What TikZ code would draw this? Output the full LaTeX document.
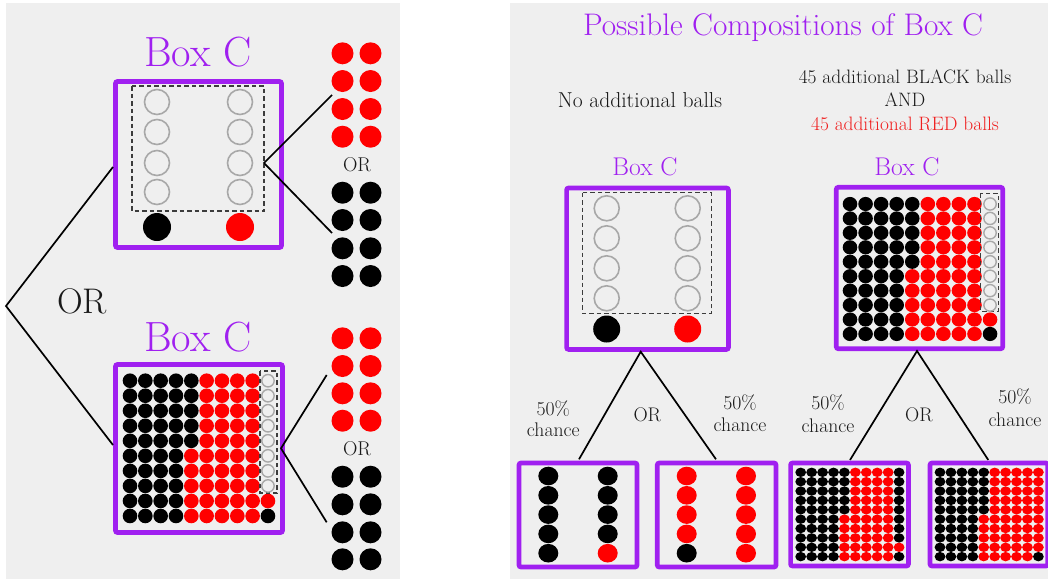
\documentclass[tikz,border=0pt]{standalone}
\usepackage{fontspec}
\definecolor{bgc}{RGB}{239,239,239}
\definecolor{boxpurple}{RGB}{160,32,240}
\definecolor{ballred}{RGB}{255,0,0}
\definecolor{ballgray}{RGB}{168,168,168}
\definecolor{dashgray}{RGB}{60,60,60}
\definecolor{txt}{RGB}{25,25,25}
\definecolor{txtred}{RGB}{240,30,30}
\newcommand\fs[1]{\fontsize{#1}{#1}\selectfont}
% 9 coloured columns plus the two coloured balls at the bottom of column 10
\newcommand\densebase[6]{%
  \foreach \r in {1,...,10}{
    \pgfmathtruncatemacro\lim{ifthenelse(\r<6,5,4)}
    \foreach \c in {1,...,9}{
      \ifnum\c>\lim\relax\def\bc{ballred}\else\def\bc{black}\fi
      \fill[fill=\bc] ({#1+(\c-1)*#3},{#2+(\r-1)*#4}) ellipse[x radius=#5pt,y radius=#6pt];
    }
  }
  \fill[ballred] ({#1+9*#3},{#2+8*#4}) ellipse[x radius=#5pt,y radius=#6pt];
  \fill[black] ({#1+9*#3},{#2+9*#4}) ellipse[x radius=#5pt,y radius=#6pt];
}
% top 8 balls of column 10
\newcommand\densetop[7]{%
  \foreach \r in {1,...,8}{
    \path[#7] ({#1+9*#3},{#2+(\r-1)*#4}) ellipse[x radius=#5pt,y radius=#6pt];
  }
}
\tikzset{
  panel/.style={fill=bgc,draw=none},
  boxc/.style={draw=boxpurple,line width=4.7pt,rounded corners=2pt},
  dashbox/.style={draw=dashgray,line width=1.2pt,dash pattern=on 4.5pt off 3pt},
  ring/.style={draw=ballgray,line width=1.6pt},
  conn/.style={draw=black,line width=1.7pt},
  boxlabel/.style={anchor=base,text=boxpurple,inner sep=0pt},
  plain/.style={anchor=base,text=txt,inner sep=0pt},
}
\begin{document}
\begin{tikzpicture}[x=1pt,y=-1pt]
\clip (0,0) rectangle (1048,579);
\fill[white] (0,0) rectangle (1048,579);
\fill[panel] (6,3) rectangle (400,579);
\fill[panel] (510,3) rectangle (1048,579);

%================ LEFT PANEL ================
% --- top Box C
\node[boxlabel,font=\fs{42.2}] (lblA) at (198,66.7) {Box C};
\draw[boxc] (115.5,81.5) rectangle (281.5,247.5);
\draw[dashbox] (132,86) rectangle (264,211);
\foreach \y in {102,132,163,192}{
  \draw[ring] (157,\y) circle[radius=12.5pt];
  \draw[ring] (240,\y) circle[radius=12.5pt];
}
\fill[black] (157,227) circle[radius=14pt];
\fill[ballred] (240,227) circle[radius=14pt];
% column of outcomes (top)
\foreach \y in {53.3,81,109,136.7}{
  \fill[ballred] (342.5,\y) circle[radius=11pt];
  \fill[ballred] (370.5,\y) circle[radius=11pt];
}
\node[plain,font=\fs{20}] (orA) at (357,171.7) {OR};
\foreach \y in {192.7,220,248.3,276}{
  \fill[black] (342.5,\y) circle[radius=11pt];
  \fill[black] (370.5,\y) circle[radius=11pt];
}
\coordinate (aApex) at (264,163);
\coordinate (aUp) at (332,95);
\coordinate (aDown) at (332,233);
\draw[conn] (aUp) -- (aApex) -- (aDown);

% --- bottom Box C
\node[boxlabel,font=\fs{42.2}] (lblB) at (198,351.7) {Box C};
\draw[boxc] (115.5,364.5) rectangle (282.5,532.5);
\densebase{130}{380.7}{15.33}{15.03}{7.3}{7.3}
\draw[dashbox] (260,371) rectangle (277,493);
\densetop{130}{380.7}{15.33}{15.03}{6.2}{6.2}{ring,line width=1.4pt}
\foreach \y in {338.3,366,393.3,420.7}{
  \fill[ballred] (342.5,\y) circle[radius=11pt];
  \fill[ballred] (370.5,\y) circle[radius=11pt];
}
\node[plain,font=\fs{20}] (orB) at (357,455.7) {OR};
\foreach \y in {476.7,504.3,532.3,559.3}{
  \fill[black] (342.5,\y) circle[radius=11pt];
  \fill[black] (370.5,\y) circle[radius=11pt];
}
\coordinate (bApex) at (281,448.3);
\coordinate (bUp) at (326.7,375);
\coordinate (bDown) at (326.7,522.3);
\draw[conn] (bUp) -- (bApex) -- (bDown);

% --- big OR fork
\node[plain,font=\fs{35.6}] (orBig) at (82,313.3) {OR};
\coordinate (fork) at (6,306);
\coordinate (forkA) at (113,167);
\coordinate (forkB) at (113,445);
\draw[conn] (forkA) -- (fork) -- (forkB);

%================ RIGHT PANEL ================
\node[boxlabel,font=\fs{31.2}] (title) at (783,35) {Possible Compositions of Box C};
\node[plain,font=\fs{21.6}] (noadd) at (640,107.3) {No additional balls};
\node[plain,font=\fs{19.4}] (addA) at (905,83.3) {45 additional BLACK balls};
\node[plain,font=\fs{19.4}] (addB) at (905,106.7) {AND};
\node[plain,font=\fs{19.4},text=txtred] (addC) at (905,130) {45 additional RED balls};
\node[boxlabel,font=\fs{25.6}] (lblC) at (645,175) {Box C};
\node[boxlabel,font=\fs{25.6}] (lblD) at (907,175) {Box C};

% --- Box C (no additional balls)
\draw[boxc] (566.6,188) rectangle (728.4,349.4);
\draw[dashbox] (582.3,192.7) rectangle (711.7,313.3);
\foreach \y in {208.3,238.3,268.3,298.3}{
  \draw[ring] (606.7,\y) circle[radius=12.5pt];
  \draw[ring] (687.7,\y) circle[radius=12.5pt];
}
\fill[black] (606.7,329) circle[radius=13.5pt];
\fill[ballred] (687.7,329) circle[radius=13.5pt];
\coordinate (cApex) at (640.7,351.7);
\coordinate (cL) at (579,459.3);
\coordinate (cR) at (716,459.3);
\draw[conn] (cL) -- (cApex) -- (cR);
\node[plain,font=\fs{19.7}] (pc1) at (553.3,415) {50\%};
\node[plain,font=\fs{19.7}] (ch1) at (553.3,436.7) {chance};
\node[plain,font=\fs{19.7}] (orC) at (647.3,421.7) {OR};
\node[plain,font=\fs{19.7}] (pc2) at (740,409) {50\%};
\node[plain,font=\fs{19.7}] (ch2) at (740,431.7) {chance};
% outcome boxes
\draw[boxc] (519,463) rectangle (637,567);
\foreach \y [count=\i] in {476,495.3,514.6,533.9,553.2}{
  \fill[black] (548.3,\y) ellipse[x radius=10pt,y radius=9.3pt];
  \ifnum\i=5\relax\def\bc{ballred}\else\def\bc{black}\fi
  \fill[fill=\bc] (607.7,\y) ellipse[x radius=10pt,y radius=9.3pt];
}
\draw[boxc] (657.3,463) rectangle (776,567);
\foreach \y [count=\i] in {476,495.3,514.6,533.9,553.2}{
  \ifnum\i=5\relax\def\bc{black}\else\def\bc{ballred}\fi
  \fill[fill=\bc] (686.7,\y) ellipse[x radius=10pt,y radius=9.3pt];
  \fill[ballred] (746,\y) ellipse[x radius=10pt,y radius=9.3pt];
}

% --- Box C (with additional balls)
\draw[boxc] (836.3,187.3) rectangle (1002.7,348.7);
\densebase{850}{204}{15.56}{14.44}{7.3}{7.1}
\draw[dashbox] (980.7,193.3) rectangle (998.3,311.7);
\densetop{850}{204}{15.56}{14.44}{6.2}{6.1}{ring,line width=1.4pt}
\coordinate (dApex) at (917,351);
\coordinate (dL) at (850,460);
\coordinate (dR) at (988.3,460);
\draw[conn] (dL) -- (dApex) -- (dR);
\node[plain,font=\fs{19.7}] (pc3) at (828,409) {50\%};
\node[plain,font=\fs{19.7}] (ch3) at (828,432) {chance};
\node[plain,font=\fs{19.7}] (orD) at (919,421) {OR};
\node[plain,font=\fs{19.7}] (pc4) at (1015,403) {50\%};
\node[plain,font=\fs{19.7}] (ch4) at (1015,426) {chance};
% outcome boxes
\draw[boxc] (790.6,463) rectangle (908.4,566);
\densebase{800.7}{472.3}{10.93}{9.37}{5.4}{4.7}
\densetop{800.7}{472.3}{10.93}{9.37}{5.4}{4.7}{fill=black}
\draw[boxc] (930,463) rectangle (1047.8,566);
\densebase{940}{472.3}{10.93}{9.37}{5.4}{4.7}
\densetop{940}{472.3}{10.93}{9.37}{5.4}{4.7}{fill=ballred}
\end{tikzpicture}
\end{document}
